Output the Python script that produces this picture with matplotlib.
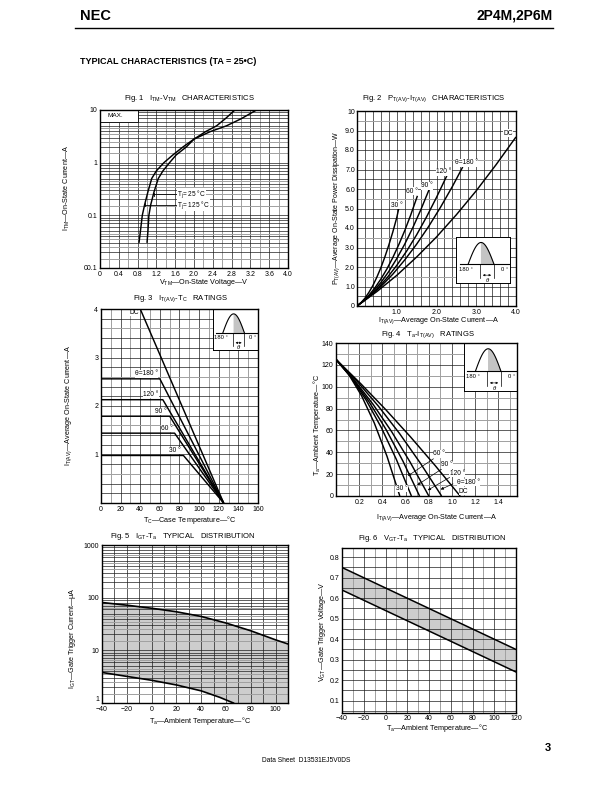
import numpy as np
import matplotlib
matplotlib.use('Agg')
import matplotlib.pyplot as plt
from matplotlib.patches import Rectangle
from matplotlib.ticker import NullLocator

plt.rcParams['font.family'] = ['Liberation Sans', 'DejaVu Sans']
plt.rcParams['mathtext.fontset'] = 'custom'
plt.rcParams['mathtext.rm'] = 'Liberation Sans'
plt.rcParams['mathtext.it'] = 'Liberation Sans:italic'
plt.rcParams['mathtext.bf'] = 'Liberation Sans:bold'

# ---------------- data ----------------
# Fig 1  ITM - VTM
f1_v125 = [0.83, 0.86, 0.90, 0.95, 1.02, 1.10, 1.20, 1.36, 1.55, 1.77, 2.00, 2.35, 2.69, 3.00, 3.33]
f1_i125 = [0.03, 0.05, 0.10, 0.16, 0.28, 0.50, 0.70, 1.00, 1.40, 2.00, 2.80, 3.90, 5.00, 6.80, 10.0]
f1_v25 = [1.00, 1.02, 1.04, 1.08, 1.15, 1.24, 1.34, 1.48, 1.62, 1.84, 2.00, 2.25, 2.48, 2.68, 2.87]
f1_i25 = [0.03, 0.05, 0.10, 0.16, 0.28, 0.50, 0.70, 1.00, 1.40, 2.00, 2.80, 3.90, 5.00, 7.00, 10.0]
f1_xticks = [0, 0.4, 0.8, 1.2, 1.6, 2.0, 2.4, 2.8, 3.2, 3.6, 4.0]
f1_xlabels = ['0', '0.4', '0.8', '1.2', '1.6', '2.0', '2.4', '2.8', '3.2', '3.6', '4.0']
f1_yticks = [0.01, 0.1, 1, 10]
f1_ylabels = ['00.1', '0.1', '1', '10']

# Fig 2  PT(AV) - IT(AV)
f2_i30 = [0, 0.1, 0.2, 0.3, 0.4, 0.5, 0.6, 0.7, 0.8, 0.9, 1.0, 1.05]
f2_p30 = [0, 0.17, 0.40, 0.70, 1.05, 1.48, 1.96, 2.51, 3.12, 3.79, 4.53, 5.00]
f2_i60 = [0, 0.15, 0.3, 0.45, 0.6, 0.75, 0.9, 1.05, 1.2, 1.35, 1.52]
f2_p60 = [0, 0.24, 0.55, 0.93, 1.38, 1.89, 2.48, 3.14, 3.86, 4.66, 5.65]
f2_i90 = [0, 0.2, 0.4, 0.6, 0.8, 1.0, 1.2, 1.4, 1.6, 1.82]
f2_p90 = [0, 0.32, 0.72, 1.20, 1.77, 2.43, 3.17, 4.00, 4.91, 6.00]
f2_i120 = [0, 0.25, 0.5, 0.75, 1.0, 1.25, 1.5, 1.75, 2.0, 2.26]
f2_p120 = [0, 0.39, 0.86, 1.43, 2.08, 2.82, 3.65, 4.57, 5.57, 6.68]
f2_i180 = [0, 0.3, 0.6, 0.9, 1.2, 1.5, 1.8, 2.1, 2.4, 2.66]
f2_p180 = [0, 0.46, 1.00, 1.63, 2.36, 3.17, 4.07, 5.06, 6.13, 7.13]
f2_idc = [0, 0.5, 1.0, 1.5, 2.0, 2.5, 3.0, 3.5, 4.0]
f2_pdc = [0, 0.74, 1.57, 2.51, 3.54, 4.68, 5.91, 7.25, 8.67]
f2_labels = ['30 °', '60 °', '90 °', '120 °', 'θ=180 °', 'DC']
f2_label_xy = [(1.00, 5.17), (1.38, 5.89), (1.76, 6.16), (2.18, 6.88), (2.76, 7.34), (3.81, 8.87)]

# Fig 3  IT(AV) - TC
f3_tc = {'DC': [40, 125], '180': [0, 60, 125], '120': [0, 63, 125],
         '90': [0, 70, 125], '60': [0, 75, 125], '30': [0, 84, 125]}
f3_it = {'DC': [4.0, 0.0], '180': [2.56, 2.56, 0.0], '120': [2.13, 2.13, 0.0],
         '90': [1.79, 1.79, 0.0], '60': [1.44, 1.44, 0.0], '30': [0.98, 0.98, 0.0]}
f3_labels = ['DC', 'θ=180 °', '120 °', '90 °', '60 °', '30 °']
f3_label_xy = [(34, 3.86), (46, 2.59), (51, 2.16), (61, 1.82), (67, 1.47), (75, 1.01)]

# Fig 4  Ta - IT(AV)
f4_i = {'30': [0, 0.11, 0.22, 0.33, 0.44, 0.55],
        '60': [0, 0.13, 0.26, 0.39, 0.52, 0.65],
        '90': [0, 0.144, 0.288, 0.432, 0.576, 0.72],
        '120': [0, 0.16, 0.32, 0.48, 0.64, 0.80],
        '180': [0, 0.182, 0.364, 0.546, 0.728, 0.91],
        'DC': [0, 0.214, 0.428, 0.642, 0.856, 1.07]}
f4_ta = {'30': [125, 111.2, 91.8, 66.8, 36.2, 0],
         '60': [125, 108.5, 87.7, 62.7, 33.5, 0],
         '90': [125, 107.2, 85.7, 60.7, 32.1, 0],
         '120': [125, 105.8, 83.8, 58.8, 30.8, 0],
         '180': [125, 104.9, 82.4, 57.4, 29.9, 0],
         'DC': [125, 102.7, 79.1, 54.1, 27.7, 0]}
f4_labels = ['60 °', '90 °', '120 °', 'θ=180 °', 'DC', '30 °']
f4_label_xy = [(0.89, 38.5), (0.955, 28.5), (1.045, 20.5), (1.14, 12.5), (1.10, 4.5), (0.57, 7.0)]
f4_leaders = [((0.86, 35.5), (0.60, 17.0)), ((0.93, 26.0), (0.68, 8.6)),
              ((1.00, 18.3), (0.77, 4.0)), ((1.03, 12.2), (0.88, 4.9))]

# Fig 5  IGT - Ta
f5_ta_max = [-40, -20, 0, 20, 40, 60, 80, 100, 110]
f5_igt_max = [81, 72, 63, 54, 44, 33, 23.5, 15.8, 13.2]
f5_ta_min = [-40, -20, 0, 20, 40, 55, 66]
f5_igt_min = [3.8, 3.2, 2.7, 2.2, 1.7, 1.28, 1.0]

# Fig 6  VGT - Ta
f6_ta = [-40, 120]
f6_vgt_max = [0.75, 0.35]
f6_vgt_min = [0.64, 0.24]

# ---------------- figure ----------------
W, H = 612, 792
fig = plt.figure(figsize=(W / 100, H / 100), dpi=100)


def ax_at(x0, y0, x1, y1):
    return fig.add_axes([x0 / W, 1 - y1 / H, (x1 - x0) / W, (y1 - y0) / H])


def ftext(x, y, s, **kw):
    kw.setdefault('fontsize', 5.2)
    kw.setdefault('ha', 'center')
    kw.setdefault('va', 'center')
    fig.text(x / W, 1 - y / H, s, **kw)


BLK = dict(color='#1e1e1e', lw=0.5, zorder=1)
GRY = dict(color='#a0a0a0', lw=0.7, zorder=1)
CURVE = dict(color='black', lw=1.05, zorder=4, solid_capstyle='butt')


def style(ax, xt, xl, yt, yl, xpad=2, ypad=2):
    ax.set_xticks(xt)
    ax.set_xticklabels(xl)
    ax.set_yticks(yt)
    ax.set_yticklabels(yl)
    ax.xaxis.set_minor_locator(NullLocator())
    ax.yaxis.set_minor_locator(NullLocator())
    ax.tick_params(which='both', length=0, labelsize=5)
    ax.tick_params(axis='x', pad=xpad)
    ax.tick_params(axis='y', pad=ypad)
    for s in ax.spines.values():
        s.set_linewidth(1.0)
        s.set_zorder(6)


def inset(ax, x0, y0, x1, y1):
    ia = ax.inset_axes([x0, y0, x1 - x0, y1 - y0], transform=ax.transData, zorder=5)
    ia.set_xlim(0, 1)
    ia.set_ylim(0, 1)
    ia.set_xticks([])
    ia.set_yticks([])
    ia.set_facecolor('white')
    for s in ia.spines.values():
        s.set_linewidth(0.7)
    t = np.linspace(0, 1, 60)
    xs = 0.22 + 0.48 * t
    ys = 0.41 + 0.47 * np.sin(np.pi * t)
    m = xs >= 0.44
    ia.fill_between(xs[m], 0.41, ys[m], color='#c4c4c4', lw=0)
    ia.plot(xs, ys, color='k', lw=0.8)
    ia.plot([0.06, 1.0], [0.41, 0.41], color='k', lw=0.8)
    ia.plot([0.44, 0.44], [0.41, 0.10], color='k', lw=0.5)
    ia.plot([0.70, 0.70], [0.41, 0.10], color='k', lw=0.5)
    ia.annotate('', xy=(0.44, 0.17), xytext=(0.70, 0.17),
                arrowprops=dict(arrowstyle='<|-|>', lw=0.4, mutation_scale=3, color='k'))
    ia.text(0.17, 0.30, '180 °', fontsize=4.2, ha='center', va='center')
    ia.text(0.89, 0.30, '0 °', fontsize=4.2, ha='center', va='center')
    ia.text(0.57, 0.06, 'θ', fontsize=4.2, ha='center', va='center', style='italic')
    return ia


# ---------------- header ----------------
ftext(80, 16, 'NEC', fontsize=10.5, fontweight='heavy', ha='left')
ftext(553, 16, '2P4M,2P6M', fontsize=10, fontweight='bold', ha='right')
fig.add_artist(plt.Line2D([75 / W, 553 / W], [1 - 28 / H, 1 - 28 / H], color='black', lw=1.0))
ftext(80, 61, 'TYPICAL CHARACTERISTICS (TA = 25•C)', fontsize=6.5, fontweight='bold', ha='left')
ftext(262, 761, 'Data Sheet  D13531EJ5V0DS', fontsize=4.8, ha='left')
ftext(548, 748, '3', fontsize=8, fontweight='bold')

# ---------------- Fig 1 ----------------
ax1 = ax_at(100, 110, 288, 268)
ax1.set_yscale('log')
ax1.set_xlim(0, 4.0)
ax1.set_ylim(0.01, 10)
for k, x in enumerate(np.arange(0.2, 3.99, 0.2)):
    ax1.axvline(x, **(BLK if k % 2 == 1 else GRY))
for dec in [0.01, 0.1, 1.0]:
    for mlt in range(1, 10):
        y = mlt * dec
        if 0.01 < y < 10:
            ax1.axhline(y, **BLK)
    for mlt in [1.5, 2.5, 3.5, 4.5]:
        ax1.axhline(mlt * dec, **GRY)
ax1.add_patch(Rectangle((0, 5.9), 0.8, 4.1, facecolor='white', edgecolor='black', lw=0.6, zorder=2))
ax1.text(0.33, 7.9, 'MAX.', fontsize=4.6, ha='center', va='center', zorder=3)
ax1.plot(f1_v125, f1_i125, **CURVE)
ax1.plot(f1_v25, f1_i25, **CURVE)
ax1.plot([1.14, 1.62], [0.25, 0.25], color='k', lw=0.6, zorder=4)
ax1.plot([0.96, 1.62], [0.16, 0.16], color='k', lw=0.6, zorder=4)
ax1.plot([1.14, 1.14], [0.23, 0.27], color='k', lw=0.6, zorder=4)
ax1.plot([0.96, 0.96], [0.148, 0.173], color='k', lw=0.6, zorder=4)
ax1.text(1.64, 0.25, r'T$_{\mathregular{j}}$= 25 °C', fontsize=4.7, ha='left', va='center', zorder=4,
         bbox=dict(facecolor='white', edgecolor='none', pad=0.05))
ax1.text(1.64, 0.158, r'T$_{\mathregular{j}}$= 125 °C', fontsize=4.7, ha='left', va='center', zorder=4,
         bbox=dict(facecolor='white', edgecolor='none', pad=0.05))
style(ax1, f1_xticks, f1_xlabels, f1_yticks, f1_ylabels)
ftext(190, 99, r'Fig. 1   I$_{\mathregular{TM}}$-V$_{\mathregular{TM}}$   CHARACTERISTICS', fontsize=5.5)
ftext(67, 188, r'I$_{\mathregular{TM}}$—On-State Current—A', rotation=90)
ftext(204, 282, r'V$_{\mathregular{TM}}$—On-State Voltage—V')

# ---------------- Fig 2 ----------------
ax2 = ax_at(357, 111, 516, 306)
ax2.set_xlim(0, 4.0)
ax2.set_ylim(0, 10)
for k, x in enumerate(np.arange(0.2, 3.99, 0.2)):
    ax2.axvline(x, **BLK)
for k, y in enumerate(np.arange(0.5, 9.99, 0.5)):
    ax2.axhline(y, **(GRY if k % 4 == 2 else BLK))
for xs, ys in [(f2_i30, f2_p30), (f2_i60, f2_p60), (f2_i90, f2_p90),
               (f2_i120, f2_p120), (f2_i180, f2_p180), (f2_idc, f2_pdc)]:
    ax2.plot(xs, ys, **CURVE)
for s, (x, y) in zip(f2_labels, f2_label_xy):
    ax2.text(x, y, s, fontsize=4.8, ha='center', va='center', zorder=4,
             bbox=dict(facecolor='white', edgecolor='none', pad=0.2))
inset(ax2, 2.50, 1.18, 3.85, 3.54)
style(ax2, [1, 2, 3, 4], ['1.0', '2.0', '3.0', '4.0'],
      list(range(0, 11)), ['0', '1.0', '2.0', '3.0', '4.0', '5.0', '6.0', '7.0', '8.0', '9.0', '10'],
      ypad=1.5)
ftext(434, 99, r'Fig. 2   P$_{\mathregular{T(AV)}}$-I$_{\mathregular{T(AV)}}$   CHARACTERISTICS', fontsize=5.5)
ftext(337, 208, r'P$_{\mathregular{T(AV)}}$—Average On-State Power Dissipation—W', rotation=90, fontsize=5.0)
ftext(439, 321, r'I$_{\mathregular{T(AV)}}$—Average On-State Current—A')

# ---------------- Fig 3 ----------------
ax3 = ax_at(101, 309, 258, 503)
ax3.set_xlim(0, 160)
ax3.set_ylim(0, 4)
for k, x in enumerate(range(10, 160, 10)):
    ax3.axvline(x, **(BLK if k % 2 == 1 else GRY))
for k, y in enumerate(np.arange(0.2, 3.99, 0.2)):
    ax3.axhline(y, **(GRY if k % 5 == 2 else BLK))
for key in ['DC', '180', '120', '90', '60', '30']:
    ax3.plot(f3_tc[key], f3_it[key], **CURVE)
for s, (x, y) in zip(f3_labels, f3_label_xy):
    ax3.text(x, y, s, fontsize=4.8, ha='center', va='bottom', zorder=4,
             bbox=dict(facecolor='white', edgecolor='none', pad=0.1))
inset(ax3, 114, 3.16, 160, 4.0)
style(ax3, list(range(0, 161, 20)), [str(v) for v in range(0, 161, 20)],
      [1, 2, 3, 4], ['1', '2', '3', '4'])
ftext(180, 299, r'Fig. 3   I$_{\mathregular{T(AV)}}$-T$_{\mathregular{C}}$   RATINGS', fontsize=5.5)
ftext(69, 405, r'I$_{\mathregular{T(AV)}}$—Average On-State Current—A', rotation=90)
ftext(190, 520, r'T$_{\mathregular{C}}$—Case Temperature—°C')

# ---------------- Fig 4 ----------------
ax4 = ax_at(336, 343, 517, 496)
ax4.set_xlim(0, 1.56)
ax4.set_ylim(0, 140)
for k, x in enumerate(np.arange(0.1, 1.55, 0.1)):
    ax4.axvline(x, **(BLK if k % 2 == 1 else GRY))
for k, y in enumerate(range(10, 140, 10)):
    ax4.axhline(y, **(BLK if k % 2 == 1 else GRY))
for key in ['30', '60', '90', '120', '180', 'DC']:
    ax4.plot(f4_i[key], f4_ta[key], **CURVE)
for (a, b) in f4_leaders:
    ax4.annotate('', xy=b, xytext=a, zorder=4,
                 arrowprops=dict(arrowstyle='-|>', lw=0.5, mutation_scale=4, color='k'))
for s, (x, y) in zip(f4_labels, f4_label_xy):
    ax4.text(x, y, s, fontsize=4.8, ha='center', va='center', zorder=4,
             bbox=dict(facecolor='white', edgecolor='none', pad=0.2))
inset(ax4, 1.10, 96, 1.56, 140)
style(ax4, [0.2, 0.4, 0.6, 0.8, 1.0, 1.2, 1.4], ['0.2', '0.4', '0.6', '0.8', '1.0', '1.2', '1.4'],
      list(range(0, 141, 20)), [str(v) for v in range(0, 141, 20)])
ftext(428, 335, r'Fig. 4   T$_{\mathregular{a}}$-I$_{\mathregular{T(AV)}}$   RATINGS', fontsize=5.5)
ftext(317, 425, r'T$_{\mathregular{a}}$—Ambient Temperature—°C', rotation=90)
ftext(437, 518, r'I$_{\mathregular{T(AV)}}$—Average On-State Current—A')

# ---------------- Fig 5 ----------------
ax5 = ax_at(102, 545, 288, 703)
ax5.set_yscale('log')
ax5.set_xlim(-40, 110)
ax5.set_ylim(1, 1000)
for k, x in enumerate(range(-30, 110, 10)):
    ax5.axvline(x, **BLK)
for dec in [1.0, 10.0, 100.0]:
    for mlt in range(1, 10):
        y = mlt * dec
        if 1 < y < 1000:
            ax5.axhline(y, **BLK)
    for mlt in [1.5, 2.5, 3.5, 4.5, 6.5]:
        ax5.axhline(mlt * dec, **GRY)
poly_x = f5_ta_max + [110] + f5_ta_min[::-1]
poly_y = f5_igt_max + [1.0] + f5_igt_min[::-1]
ax5.fill(poly_x, poly_y, facecolor='#cdcdcd', edgecolor='none', zorder=0.5)
ax5.plot(f5_ta_max, f5_igt_max, color='k', lw=1.2, zorder=4)
ax5.plot(f5_ta_min, f5_igt_min, color='k', lw=1.2, zorder=4)
style(ax5, list(range(-40, 101, 20)), ['−40', '−20', '0', '20', '40', '60', '80', '100'],
      [1, 10, 100, 1000], ['1', '10', '100', '1000'])
ax5.get_yticklabels()[0].set_verticalalignment('bottom')
ftext(183, 537, r'Fig. 5   I$_{\mathregular{GT}}$-T$_{\mathregular{a}}$   TYPICAL   DISTRIBUTION', fontsize=5.5)
ftext(72, 638, r'I$_{\mathregular{GT}}$—Gate Trigger Current—μA', rotation=90)
ftext(200, 721, r'T$_{\mathregular{a}}$—Ambient Temperature—°C')

# ---------------- Fig 6 ----------------
ax6 = ax_at(342, 548, 516, 713)
ax6.set_xlim(-40, 120)
ax6.set_ylim(0.04, 0.845)
for k, x in enumerate(range(-30, 120, 10)):
    ax6.axvline(x, **(BLK if k % 2 == 1 else GRY))
for k, y in enumerate(np.arange(0.05, 0.84, 0.05)):
    ax6.axhline(y, **BLK)
ax6.fill_between(f6_ta, f6_vgt_min, f6_vgt_max, facecolor='#cdcdcd', edgecolor='none', zorder=0.5)
ax6.plot(f6_ta, f6_vgt_max, color='k', lw=1.1, zorder=4)
ax6.plot(f6_ta, f6_vgt_min, color='k', lw=1.1, zorder=4)
style(ax6, list(range(-40, 121, 20)), ['−40', '−20', '0', '20', '40', '60', '80', '100', '120'],
      [0.1, 0.2, 0.3, 0.4, 0.5, 0.6, 0.7, 0.8], ['0.1', '0.2', '0.3', '0.4', '0.5', '0.6', '0.7', '0.8'],
      xpad=1.2)
ftext(432, 539, r'Fig. 6   V$_{\mathregular{GT}}$-T$_{\mathregular{a}}$   TYPICAL   DISTRIBUTION', fontsize=5.5)
ftext(322, 632, r'V$_{\mathregular{GT}}$—Gate Trigger Voltage—V', rotation=90)
ftext(437, 728, r'T$_{\mathregular{a}}$—Ambient Temperature—°C')

fig.savefig('out.png', dpi=100)
